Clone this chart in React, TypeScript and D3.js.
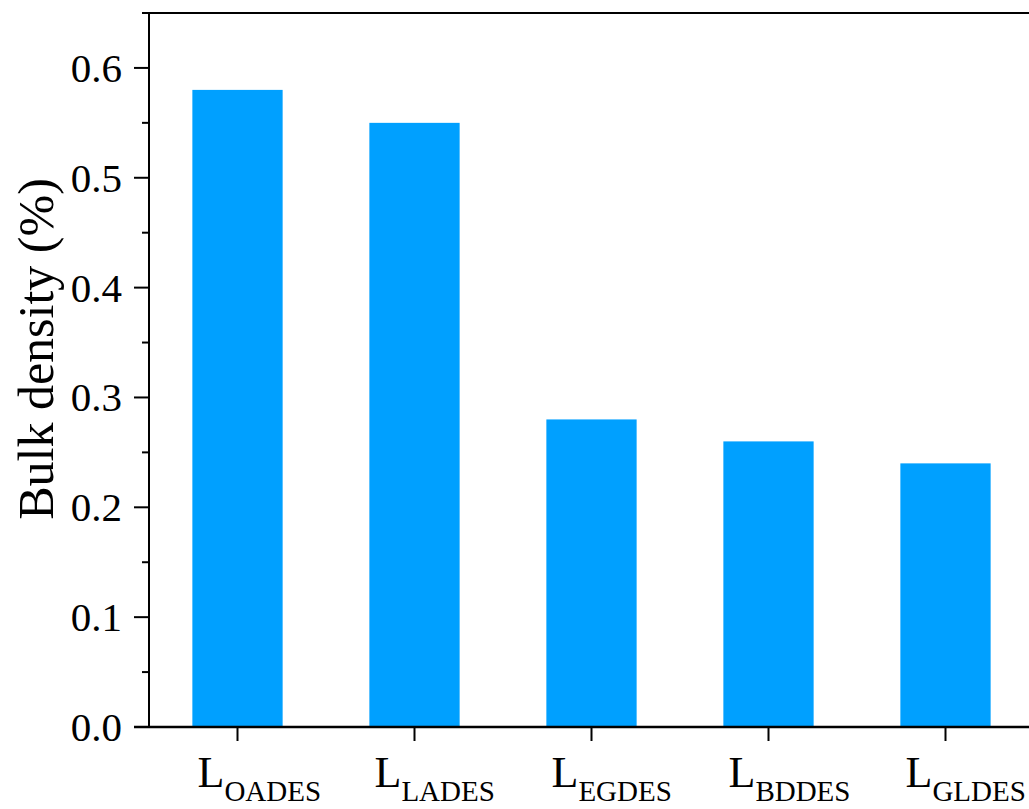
import React from "react";
import * as d3 from "d3";

// Sample names (main letter + subscript) and bulk density values
const sampleMain: string[] = ["L", "L", "L", "L", "L"];
const sampleSub: string[] = ["OADES", "LADES", "EGDES", "BDDES", "GLDES"];
const bulkDensity: number[] = [0.58, 0.55, 0.28, 0.26, 0.24];
const majorTicks: number[] = [0, 0.1, 0.2, 0.3, 0.4, 0.5, 0.6];
const minorTicks: number[] = [0.05, 0.15, 0.25, 0.35, 0.45, 0.55, 0.65];

const W = 1029;
const H = 809;
const FONT = "'Liberation Serif', 'Times New Roman', serif";
const BAR = "#00A0FF";

export default function App() {
  const left = 149;
  const right = 1034;
  const top = 13;
  const bottom = 727;

  const x = d3
    .scaleBand<number>()
    .domain(d3.range(sampleSub.length))
    .range([left, right])
    .paddingInner(0.49)
    .paddingOuter(0.245);
  const y = d3.scaleLinear().domain([0, 0.65]).range([bottom, top]);

  return (
    <svg
      width={W}
      height={H}
      style={{ position: "absolute", left: 0, top: 0, background: "#fff" }}
      fontFamily={FONT}
    >
      {/* bars */}
      {bulkDensity.map((v, i) => (
        <rect
          key={i}
          x={x(i)!}
          y={y(v)}
          width={x.bandwidth()}
          height={y(0) - y(v)}
          fill={BAR}
        />
      ))}

      {/* frame: top line and left / bottom axes */}
      <line x1={left} x2={right} y1={y(0.65)} y2={y(0.65)} stroke="#000" strokeWidth={2} />
      <line x1={left} x2={left} y1={y(0.65) - 1} y2={bottom + 1} stroke="#000" strokeWidth={2} />
      <line x1={left - 15} x2={right} y1={bottom} y2={bottom} stroke="#000" strokeWidth={2.5} />

      {/* y ticks */}
      {majorTicks.map((t) => (
        <g key={"M" + t}>
          <line x1={left - 15} x2={left} y1={y(t)} y2={y(t)} stroke="#000" strokeWidth={2} />
          <text
            x={left - 27}
            y={y(t)}
            textAnchor="end"
            dominantBaseline="central"
            fontSize={41}
            fill="#000"
          >
            {t.toFixed(1)}
          </text>
        </g>
      ))}
      {minorTicks.map((t) => (
        <line key={"m" + t} x1={left - 7} x2={left} y1={y(t)} y2={y(t)} stroke="#000" strokeWidth={2} />
      ))}

      {/* x ticks and labels */}
      {sampleSub.map((s, i) => {
        const cx = x(i)! + x.bandwidth() / 2;
        return (
          <g key={s}>
            <line x1={cx} x2={cx} y1={bottom} y2={bottom + 14} stroke="#000" strokeWidth={2} />
            <text x={cx - 40} y={787} fontSize={44} fill="#000">
              {sampleMain[i]}
              <tspan fontSize={29} dy={14}>
                {s}
              </tspan>
            </text>
          </g>
        );
      })}

      {/* y axis title */}
      <text
        transform={`translate(53, 349) rotate(-90)`}
        textAnchor="middle"
        fontSize={50}
        fill="#000"
      >
        Bulk density (%)
      </text>
    </svg>
  );
}
